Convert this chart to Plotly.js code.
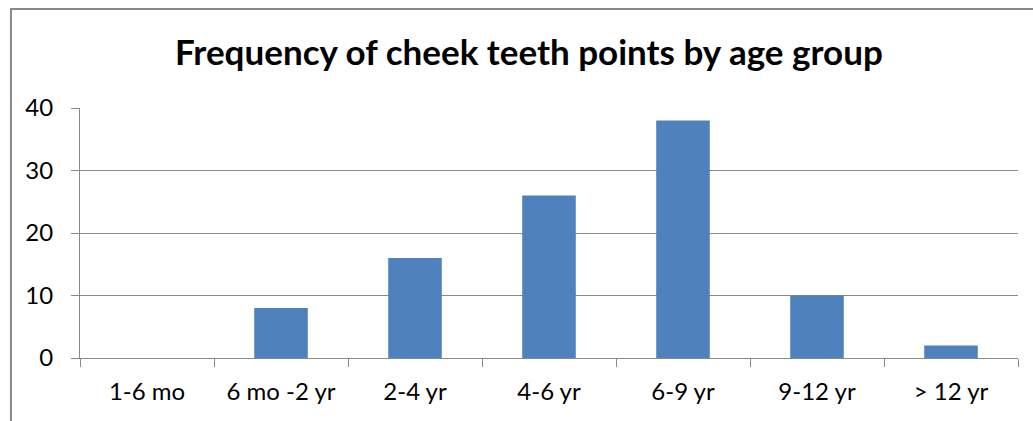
<!DOCTYPE html>
<html>
<head>
<meta charset="utf-8">
<script src="https://cdn.plot.ly/plotly-3.0.1.min.js"></script>
<style>
  html, body { margin: 0; padding: 0; background: #fff; }
  #chart { width: 1033px; height: 421px; }
</style>
</head>
<body>
<div id="chart"></div>
<script>
// age groups and counts
const ageGroups = ['1-6 mo', '6 mo -2 yr', '2-4 yr', '4-6 yr', '6-9 yr', '9-12 yr', '> 12 yr'];
const frequency = [0, 8, 16, 26, 38, 10, 2];
const yTicks = [0, 10, 20, 30, 40];

const fontFamily = 'Lato, "Open Sans", sans-serif';
const gray = '#898989';

const trace = {
    x: ageGroups,
    y: frequency,
    type: 'bar',
    marker: { color: '#4F81BD' },
    hoverinfo: 'x+y'
};

const layout = {
    width: 1033,
    height: 421,
    margin: { l: 80, r: 15, t: 108, b: 63 },
    paper_bgcolor: '#fff',
    plot_bgcolor: '#fff',
    showlegend: false,
    bargap: 0.6,
    font: { family: fontFamily, size: 24, color: '#000' },
    title: {
        text: '<b>Frequency of cheek teeth points by age group</b>',
        font: { family: fontFamily, size: 35, color: '#000' },
        x: 0.512,
        xanchor: 'center',
        y: 0.874,
        yanchor: 'middle'
    },
    xaxis: {
        type: 'category',
        showline: true,
        linecolor: gray,
        linewidth: 1,
        ticks: 'outside',
        tickson: 'boundaries',
        ticklen: 8,
        tickcolor: gray,
        showgrid: false,
        zeroline: false,
        tickfont: { family: fontFamily, size: 24 },
        ticklabelstandoff: 12,
        automargin: false
    },
    yaxis: {
        range: [0, 40],
        tickvals: yTicks,
        showline: true,
        linecolor: gray,
        linewidth: 1,
        ticks: 'outside',
        ticklen: 8,
        tickcolor: gray,
        showgrid: true,
        gridcolor: gray,
        gridwidth: 1,
        zeroline: false,
        tickfont: { family: fontFamily, size: 24 },
        ticklabelstandoff: 13,
        automargin: false
    },
    shapes: [
        // outer chart frame (partly outside the picture)
        {
            type: 'rect', xref: 'paper', yref: 'paper',
            x0: -0.0736, x1: 1.2, y0: -0.4, y1: 1.396,
            line: { color: gray, width: 2 }, fillcolor: 'rgba(0,0,0,0)',
            layer: 'below'
        }
    ]
};

Plotly.newPlot('chart', [trace], layout, { displayModeBar: false, staticPlot: true });
</script>
</body>
</html>
